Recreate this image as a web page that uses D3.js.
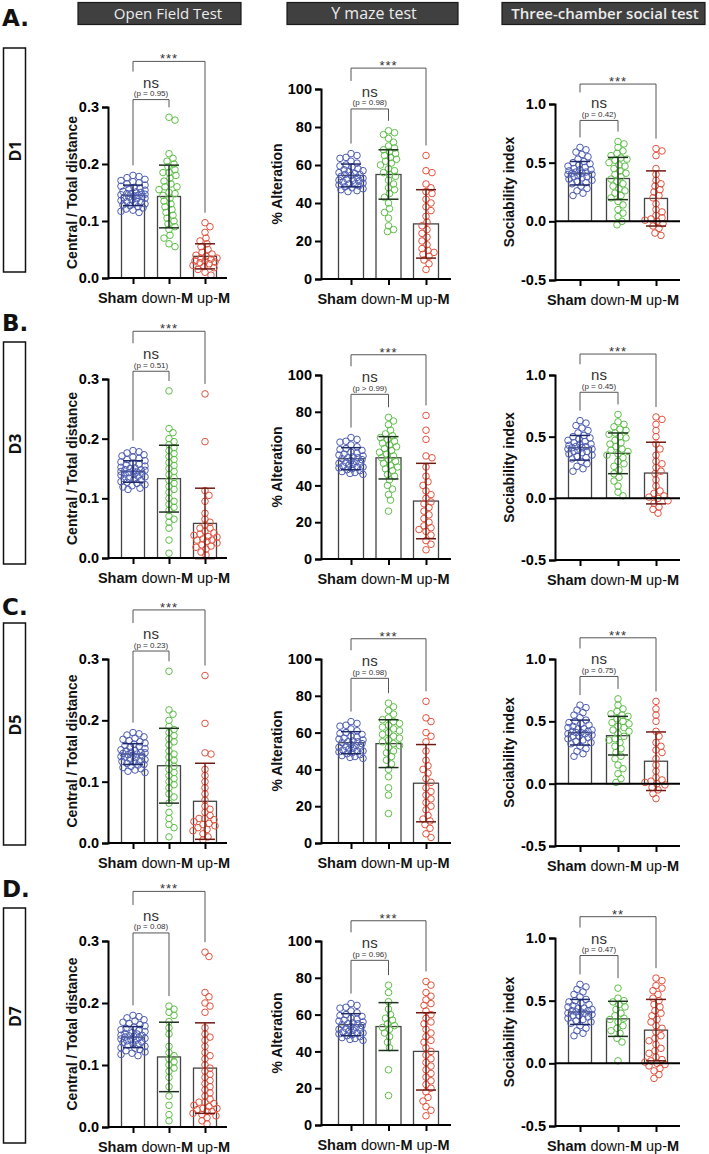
<!DOCTYPE html>
<html>
<head>
<meta charset="utf-8">
<script src="https://cdn.jsdelivr.net/npm/d3@7"></script>
<style>
  body { margin: 0; background: #fff; }
  svg { display: block; }
  text { font-family: Arial, "Liberation Sans", sans-serif; }
</style>
</head>
<body>
<div id="fig"></div>
<script>
// ---- categories / labels
var groups = ["Sham", "down-M", "up-M"];
var days = ["D1", "D3", "D5", "D7"];
var rowLetters = ["A.", "B.", "C.", "D."];
var tests = ["Open Field Test", "Y maze test", "Three-chamber social test"];
var yLabels = ["Central / Total distance", "% Alteration", "Sociability index"];

// ---- tick labels
var ofTicks = [0, 0.1, 0.2, 0.3];
var ymTicks = [0, 20, 40, 60, 80, 100];
var siTicks = [-0.5, 0, 0.5, 1.0];

// ---- bar means and SD  (rows: D1, D3, D5, D7; cols: Sham, down-M, up-M)
var ofMeans = [[0.145, 0.143, 0.038], [0.145, 0.133, 0.058], [0.145, 0.126, 0.068], [0.145, 0.113, 0.095]];
var ofSD    = [[0.018, 0.055, 0.022], [0.018, 0.056, 0.059], [0.017, 0.061, 0.062], [0.017, 0.056, 0.073]];
var ymMeans = [[54.5, 55, 29], [54.5, 55, 31.5], [54.5, 54, 32.5], [54.5, 53.5, 40]];
var ymSD    = [[6, 13, 18], [6, 11.5, 20.5], [6, 13, 21], [6, 13, 21]];
var siMeans = [[0.41, 0.365, 0.195], [0.41, 0.365, 0.205], [0.41, 0.385, 0.18], [0.41, 0.355, 0.265]];
var siSD    = [[0.1, 0.18, 0.235], [0.1, 0.165, 0.25], [0.1, 0.155, 0.235], [0.1, 0.14, 0.245]];

// ---- statistics text
var ofP = ["= 0.95", "= 0.51", "= 0.23", "= 0.08"];
var ymP = ["= 0.98", "> 0.99", "= 0.98", "= 0.96"];
var siP = ["= 0.42", "= 0.45", "= 0.75", "= 0.47"];
var ofStars = ["***", "***", "***", "***"];
var ymStars = ["***", "***", "***", "***"];
var siStars = ["***", "***", "***", "**"];

// ---- individual animals: sham (same cohort every day)
var shamOF = [0.180,0.178,0.176,0.173,0.171,0.169,0.167,0.165,0.163,0.161,0.159,0.157,0.156,0.154,0.152,0.151,0.150,0.148,0.147,0.146,0.145,0.144,0.143,0.142,0.140,0.139,0.137,0.136,0.134,0.132,0.130,0.128,0.127,0.125,0.123,0.121,0.119,0.117,0.115,0.148,0.141,0.133];
var shamYM = [66,65,64,63.5,62,61,60,59.5,59,58,57,56.5,56,55.5,55,54.5,54,53.5,53,52.5,52,51.5,51,50.5,50,49.5,49,48.5,48,47.5,47,46.5,46,57.5,55,52,50];
var shamSI = [0.63,0.61,0.59,0.57,0.55,0.53,0.51,0.50,0.49,0.48,0.47,0.46,0.45,0.44,0.43,0.42,0.42,0.41,0.41,0.40,0.40,0.39,0.38,0.37,0.36,0.35,0.34,0.33,0.32,0.30,0.28,0.26,0.24,0.22,0.44,0.38];

// ---- down-M animals per day
var ofDown = [
  [0.282,0.277,0.218,0.210,0.205,0.200,0.195,0.190,0.185,0.180,0.175,0.170,0.165,0.160,0.155,0.150,0.148,0.145,0.140,0.135,0.130,0.125,0.120,0.115,0.110,0.105,0.100,0.095,0.090,0.085,0.075,0.070,0.060,0.055,0.185,0.160],
  [0.280,0.217,0.210,0.200,0.195,0.190,0.185,0.180,0.175,0.170,0.165,0.160,0.155,0.150,0.145,0.140,0.135,0.130,0.125,0.120,0.115,0.110,0.100,0.095,0.090,0.085,0.080,0.070,0.065,0.060,0.050,0.030,0.008],
  [0.280,0.217,0.210,0.200,0.190,0.185,0.180,0.175,0.170,0.165,0.160,0.150,0.145,0.140,0.135,0.130,0.125,0.120,0.115,0.110,0.105,0.100,0.095,0.090,0.080,0.075,0.065,0.050,0.040,0.030,0.025,0.010],
  [0.195,0.190,0.185,0.180,0.170,0.160,0.150,0.130,0.120,0.115,0.110,0.105,0.100,0.095,0.090,0.080,0.065,0.050,0.035,0.020,0.010]
];
var ymDown = [
  [78,77,76,74,72,70,69,68,67,66,65,64,63,62,61,60,58,57,56,55,54,52,50,48,47,45,43,40,37,35,32,28,26,25],
  [77,75,73,70,68,67,66,65,64,63,62,61,60,59,58,57,56,55,54,53,52,51,50,49,48,46,45,43,40,38,35,32,26],
  [76,74,72,70,68,67,66,65,64,63,62,61,60,59,58,57,56,55,54,53,52,50,49,47,45,43,40,36,30,26,16],
  [76,72,67,63,60,58,57,55,54,53,52,50,48,45,42,30,16]
];
var siDown = [
  [0.68,0.66,0.63,0.60,0.58,0.56,0.54,0.53,0.52,0.50,0.48,0.47,0.45,0.43,0.41,0.40,0.38,0.36,0.34,0.32,0.30,0.28,0.26,0.24,0.22,0.20,0.17,0.14,0.10,0.07,0.04,0.00,-0.03],
  [0.68,0.62,0.60,0.58,0.56,0.55,0.53,0.52,0.50,0.49,0.47,0.45,0.44,0.42,0.40,0.39,0.38,0.36,0.35,0.33,0.30,0.28,0.26,0.23,0.20,0.17,0.14,0.10,0.05,0.02],
  [0.68,0.63,0.60,0.58,0.56,0.55,0.54,0.52,0.50,0.49,0.48,0.46,0.45,0.43,0.42,0.40,0.38,0.36,0.35,0.33,0.30,0.28,0.25,0.22,0.20,0.15,0.12,0.08,0.04,0.01],
  [0.60,0.52,0.50,0.49,0.47,0.45,0.43,0.40,0.38,0.36,0.35,0.33,0.30,0.28,0.26,0.24,0.20,0.17,0.02]
];

// ---- up-M animals per day
var ofUp = [
  [0.097,0.090,0.080,0.070,0.065,0.060,0.055,0.050,0.045,0.042,0.040,0.038,0.035,0.033,0.030,0.030,0.028,0.025,0.022,0.020,0.018,0.015,0.010,0.005,0.035,0.027],
  [0.275,0.195,0.113,0.105,0.095,0.075,0.065,0.060,0.055,0.050,0.045,0.040,0.038,0.035,0.032,0.030,0.028,0.025,0.022,0.020,0.018,0.015,0.010,0.050,0.042,0.030,0.036,0.005],
  [0.273,0.195,0.147,0.145,0.120,0.110,0.100,0.090,0.080,0.070,0.060,0.055,0.050,0.045,0.040,0.038,0.035,0.032,0.030,0.028,0.025,0.022,0.020,0.015,0.010,0.005,0.040],
  [0.282,0.275,0.217,0.210,0.200,0.195,0.185,0.160,0.150,0.145,0.140,0.130,0.120,0.115,0.110,0.100,0.095,0.090,0.085,0.080,0.075,0.070,0.065,0.060,0.055,0.050,0.045,0.040,0.038,0.035,0.033,0.030,0.028,0.025,0.022,0.020,0.018,0.015,0.010,0.005,0.030,0.025,0.040]
];
var ymUp = [
  [65,57,56,50,48,46,45,42,40,38,36,33,30,28,26,24,22,20,18,16,15,14,13,12,10,8,5],
  [78,70,65,56,55,50,45,42,40,37,35,33,31,30,28,26,24,22,20,18,17,16,15,13,10,8,5],
  [77,68,66,60,58,55,50,45,42,40,38,35,33,30,28,26,24,22,20,18,15,13,12,10,8,5,3],
  [78,76,72,70,68,66,65,62,60,58,56,55,52,50,48,46,45,42,40,38,36,34,32,30,28,26,24,22,20,18,15,13,10,8,5]
];
var siUp = [
  [0.62,0.60,0.56,0.45,0.40,0.35,0.32,0.30,0.27,0.25,0.22,0.20,0.15,0.10,0.08,0.05,0.03,0.02,0.01,0.00,-0.02,-0.04,-0.06,-0.10,-0.12],
  [0.66,0.64,0.60,0.55,0.50,0.44,0.40,0.35,0.30,0.28,0.25,0.22,0.20,0.15,0.10,0.06,0.04,0.02,0.01,0.00,-0.02,-0.04,-0.07,-0.09,-0.12],
  [0.66,0.60,0.55,0.50,0.42,0.38,0.33,0.30,0.27,0.25,0.20,0.15,0.10,0.05,0.03,0.02,0.01,0.00,-0.01,-0.03,-0.05,-0.08,-0.12],
  [0.68,0.66,0.62,0.60,0.58,0.55,0.52,0.50,0.47,0.45,0.42,0.40,0.38,0.35,0.33,0.30,0.28,0.25,0.22,0.20,0.18,0.15,0.12,0.10,0.08,0.05,0.03,0.02,0.01,0.00,-0.01,-0.02,-0.04,-0.06,-0.09,-0.12]
];

// ---- styling
var ptColor = ["#4d5db3", "#5fbf4a", "#e2533f"];
var errColor = ["#1f2a6b", "#1d331d", "#6e1a12"];

var W = 709, H = 1154;
var svg = d3.select("#fig").append("svg")
    .attr("width", W)
    .attr("height", H);
svg.append("rect").attr("width", W).attr("height", H).attr("fill", "#fff");

// panel layout per column
var cols = [
  { x0: 108, x1: 227, padL: 25, padR: 22, bw: 23, domain: [0, 0.3], ticks: ofTicks, fmt: function(v) { return v.toFixed(1); }, labelX: 72, topLev: 0.38, nsLev: 0.313 },
  { x0: 321, x1: 451, padL: 30, padR: 25, bw: 25, domain: [0, 100], ticks: ymTicks, fmt: function(v) { return String(v); }, labelX: 277, topLev: 111, nsLev: 89.5 },
  { x0: 555, x1: 680, padL: 25, padR: 24, bw: 23, domain: [-0.5, 1], ticks: siTicks, fmt: function(v) { return v.toFixed(1); }, labelX: 509, topLev: 1.17, nsLev: 0.86 }
];
// vertical pixel extent of each panel's y axis [top, bottom]
var rowPix = [
  [[107, 278], [89, 279], [104, 280]],
  [[379, 558], [375, 559], [375, 560]],
  [[659, 843], [659, 843], [659, 846]],
  [[941, 1127], [941, 1125], [938, 1126]]
];
var dayBox = [[48, 272], [342, 564], [623, 845], [908, 1143]];
var letterY = [26, 331, 615, 897];
var headerBox = [[78, 241, 168, 15], [287, 458, 374, 16], [502, 705, 605, 15]];

// ---- column headers
headerBox.forEach(function(b, i) {
    svg.append("rect")
        .attr("x", b[0]).attr("y", 2.5)
        .attr("width", b[1] - b[0]).attr("height", 22)
        .attr("fill", "#404040")
        .attr("stroke", "#1a1a1a").attr("stroke-width", 1.2);
    svg.append("text")
        .attr("x", b[2]).attr("y", 19)
        .attr("text-anchor", "middle")
        .style("font-family", "'Open Sans', 'Noto Sans', sans-serif")
        .style("font-size", b[3] + "px")
        .style("font-weight", i == 2 ? 600 : 400)
        .attr("fill", "#ececec")
        .text(tests[i]);
});

// ---- row letters and day boxes
days.forEach(function(d, r) {
    svg.append("text")
        .attr("x", 2).attr("y", letterY[r])
        .style("font-family", "'DejaVu Sans', sans-serif")
        .style("font-size", "23px").style("font-weight", "bold")
        .attr("fill", "#111")
        .text(rowLetters[r]);
    var b = dayBox[r];
    svg.append("rect")
        .attr("x", 3.5).attr("y", b[0])
        .attr("width", 22).attr("height", b[1] - b[0])
        .attr("fill", "#fff").attr("stroke", "#111").attr("stroke-width", 1.5);
    var cy = (b[0] + b[1]) / 2 - 9;
    svg.append("text")
        .attr("transform", "translate(21," + cy + ") rotate(-90)")
        .attr("text-anchor", "middle")
        .style("font-family", "'Open Sans', sans-serif")
        .style("font-size", "16px").style("font-weight", "bold")
        .attr("fill", "#111")
        .text(d);
});

// simple deterministic beeswarm: spread overlapping points sideways
function swarm(vals, y, r, maxOff) {
    var pts = vals.map(function(v) { return { v: v, y: y(v), dx: 0 }; })
        .sort(function(a, b) { return a.y - b.y; });
    var placed = [];
    var minD = r * 1.75;
    pts.forEach(function(p) {
        var best = 0, bestD = -1;
        for (var k = 0; k <= maxOff * 2; k++) {
            var off = (k % 2 ? 1 : -1) * Math.ceil(k / 2);
            var dmin = Infinity;
            placed.forEach(function(q) {
                if (Math.abs(q.y - p.y) < minD) {
                    var d = Math.hypot(q.dx - off, q.y - p.y);
                    if (d < dmin) dmin = d;
                }
            });
            if (dmin >= minD) { best = off; bestD = dmin; break; }
            if (dmin > bestD) { bestD = dmin; best = off; }
        }
        p.dx = best;
        placed.push(p);
    });
    return pts;
}

function panelData(c, r) {
    if (c == 0) return { pts: [shamOF, ofDown[r], ofUp[r]], m: ofMeans[r], sd: ofSD[r], p: ofP[r], stars: ofStars[r] };
    if (c == 1) return { pts: [shamYM, ymDown[r], ymUp[r]], m: ymMeans[r], sd: ymSD[r], p: ymP[r], stars: ymStars[r] };
    return { pts: [shamSI, siDown[r], siUp[r]], m: siMeans[r], sd: siSD[r], p: siP[r], stars: siStars[r] };
}

// ---- panels
days.forEach(function(day, r) {
    cols.forEach(function(col, c) {
        var pix = rowPix[r][c];
        var data = panelData(c, r);
        var g = svg.append("g");

        var y = d3.scaleLinear().domain(col.domain).range([pix[1], pix[0]]);
        var x = d3.scalePoint().domain(groups).range([col.x0 + col.padL, col.x1 - col.padR]);
        var y0 = y(0);

        // bars
        g.selectAll("rect.bar")
            .data(groups)
            .enter().append("rect")
            .attr("class", "bar")
            .attr("x", function(d) { return x(d) - col.bw / 2; })
            .attr("y", function(d, i) { return Math.min(y(data.m[i]), y0); })
            .attr("width", col.bw)
            .attr("height", function(d, i) { return Math.abs(y0 - y(data.m[i])); })
            .attr("fill", "#fff")
            .attr("stroke", "#444")
            .attr("stroke-width", 1.3);

        // points
        groups.forEach(function(gname, i) {
            var sw = swarm(data.pts[i], y, 3.3, 12);
            g.selectAll(null)
                .data(sw)
                .enter().append("circle")
                .attr("cx", function(d) { return x(gname) + d.dx; })
                .attr("cy", function(d) { return d.y; })
                .attr("r", 3.3)
                .attr("fill", "none")
                .attr("stroke", ptColor[i])
                .attr("stroke-width", 1);
        });

        // SD error bars
        groups.forEach(function(gname, i) {
            var cx = x(gname);
            var lo = y(data.m[i] - data.sd[i]), hi = y(data.m[i] + data.sd[i]);
            var eg = g.append("g").attr("stroke", errColor[i]).attr("stroke-width", 1.5);
            eg.append("line").attr("x1", cx).attr("x2", cx).attr("y1", lo).attr("y2", hi);
            eg.append("line").attr("x1", cx - 10).attr("x2", cx + 10).attr("y1", lo).attr("y2", lo);
            eg.append("line").attr("x1", cx - 10).attr("x2", cx + 10).attr("y1", hi).attr("y2", hi);
        });

        // y axis
        var yAxis = d3.axisLeft(y).tickValues(col.ticks).tickFormat(col.fmt).tickSize(6).tickPadding(3);
        var ya = g.append("g").attr("transform", "translate(" + col.x0 + ",0)").call(yAxis);
        ya.select(".domain").attr("stroke", "#000").attr("stroke-width", 2);
        ya.selectAll(".tick line").attr("stroke", "#000").attr("stroke-width", 2);
        ya.selectAll(".tick text")
            .style("font-size", "14.5px").style("font-weight", "bold")
            .style("font-family", "Arial, 'Liberation Sans', sans-serif")
            .attr("fill", "#000");

        // x axis at bottom of y range
        var xAxis = d3.axisBottom(x).tickSize(6).tickFormat("");
        var xa = g.append("g").attr("transform", "translate(0," + pix[1] + ")").call(xAxis);
        xa.select(".domain").attr("d", "M" + col.x0 + ",0H" + col.x1)
            .attr("stroke", "#000").attr("stroke-width", 2);
        xa.selectAll(".tick line").attr("stroke", "#000").attr("stroke-width", 2);

        // zero line when the domain goes negative
        if (col.domain[0] < 0) {
            g.append("line")
                .attr("x1", col.x0).attr("x2", col.x1)
                .attr("y1", y0).attr("y2", y0)
                .attr("stroke", "#000").attr("stroke-width", 2);
        }

        // group labels
        var mid = (x(groups[0]) + x(groups[2])) / 2 - 5;
        var lab = g.append("text")
            .attr("x", mid).attr("y", pix[1] + 25)
            .attr("text-anchor", "middle")
            .style("font-size", "14.5px")
            .attr("fill", "#111");
        lab.append("tspan").style("font-weight", "bold").text("Sham ");
        lab.append("tspan").text("down-");
        lab.append("tspan").style("font-weight", "bold").text("M ");
        lab.append("tspan").text("up-");
        lab.append("tspan").style("font-weight", "bold").text("M");

        // y label
        g.append("text")
            .attr("transform", "translate(" + col.labelX + "," + ((pix[0] + pix[1]) / 2) + ") rotate(-90)")
            .attr("text-anchor", "middle")
            .attr("dy", "0.35em")
            .style("font-size", "14px").style("font-weight", "bold")
            .attr("fill", "#111")
            .text(yLabels[c]);

        // significance brackets
        var xs = x(groups[0]), xd = x(groups[1]), xu = x(groups[2]);
        var yTop = y(col.topLev), yNs = y(col.nsLev);
        var maxS = y(d3.max(data.pts[0])) - 10;
        var maxD = y(d3.max(data.pts[1])) - 10;
        var maxU = y(d3.max(data.pts[2])) - 10;
        var bg = g.append("g").attr("stroke", "#555").attr("stroke-width", 1).attr("fill", "none");
        bg.append("path").attr("d", "M" + xs + "," + (yNs - 28) + "V" + yTop + "H" + xu + "V" + maxU);
        bg.append("path").attr("d", "M" + xs + "," + maxS + "V" + yNs + "H" + xd + "V" + maxD);

        g.append("text")
            .attr("x", (xs + xu) / 2).attr("y", yTop + 2)
            .attr("text-anchor", "middle")
            .style("font-size", "13px")
            .style("letter-spacing", "1px")
            .attr("fill", "#333")
            .text(data.stars);
        g.append("text")
            .attr("x", (xs + xd) / 2).attr("y", yNs - 12)
            .attr("text-anchor", "middle")
            .style("font-size", "15px")
            .attr("fill", "#333")
            .text("ns");
        g.append("text")
            .attr("x", (xs + xd) / 2).attr("y", yNs - 3.5)
            .attr("text-anchor", "middle")
            .style("font-size", "8px")
            .attr("fill", "#333")
            .text("(p " + data.p + ")");
    });
});
</script>
</body>
</html>
